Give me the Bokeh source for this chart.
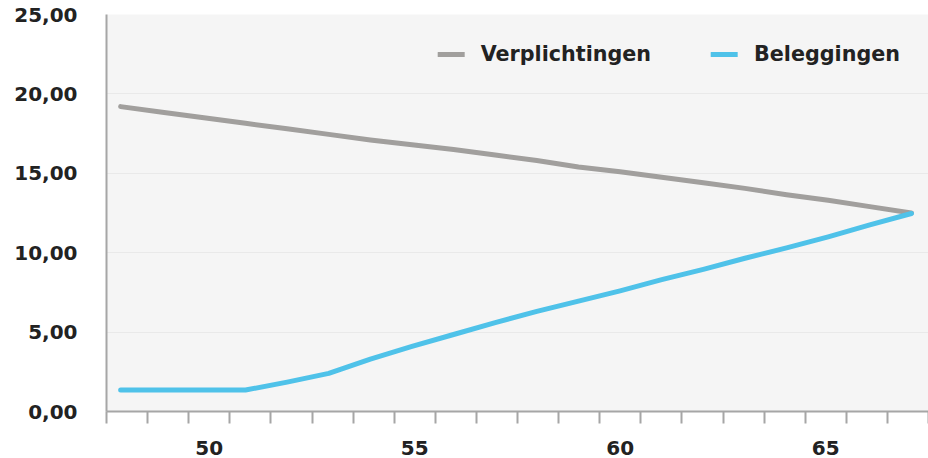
from bokeh.plotting import figure
from bokeh.models import Range1d, LinearAxis, FixedTicker, Legend, LegendItem
from bokeh.embed import file_html
from bokeh.resources import INLINE

# ---- data ----
ages = list(range(48, 68))
verplichtingen = [19.2, 18.85, 18.5, 18.15, 17.8, 17.45, 17.1, 16.8, 16.5, 16.15,
                  15.8, 15.4, 15.1, 14.75, 14.4, 14.05, 13.65, 13.3, 12.9, 12.5]
beleggingen = [1.35, 1.35, 1.35, 1.35, 1.85, 2.4, 3.3, 4.1, 4.85, 5.6,
               6.3, 6.95, 7.6, 8.3, 8.95, 9.65, 10.3, 11.0, 11.75, 12.47]
x_tick_values = [50, 55, 60, 65]
x_tick_labels = ["50", "55", "60", "65"]
y_tick_values = [0, 5, 10, 15, 20, 25]
y_tick_labels = ["0,00", "5,00", "10,00", "15,00", "20,00", "25,00"]
series_names = ["Verplichtingen", "Beleggingen"]

GRAY = "#a19f9d"
BLUE = "#4fc2e9"
AXIS = "#a6a6a6"
TEXT = "#222222"
FONT = "DejaVu Sans"

p = figure(width=928, height=458, output_backend="svg", toolbar_location=None,
           x_range=Range1d(47.66, 67.41), y_range=Range1d(0, 25),
           x_axis_location=None, y_axis_location="left",
           min_border_left=106, min_border_right=0, min_border_top=14,
           min_border_bottom=47)
p.background_fill_color = "#f5f5f5"
p.border_fill_color = "white"
p.outline_line_color = None

# category-style x axis on its own range
p.extra_x_ranges = {"cat": Range1d(47.5, 67.5)}
xaxis = LinearAxis(x_range_name="cat",
                   ticker=FixedTicker(ticks=x_tick_values,
                                      minor_ticks=[a - 0.5 for a in ages] + [ages[-1] + 0.5]))
xaxis.major_label_overrides = {v: l for v, l in zip(x_tick_values, x_tick_labels)}
xaxis.major_tick_line_color = None
xaxis.major_tick_out = 0
xaxis.major_tick_in = 0
xaxis.minor_tick_line_color = AXIS
xaxis.minor_tick_line_width = 2
xaxis.minor_tick_out = 12
xaxis.minor_tick_in = 0
xaxis.axis_line_color = AXIS
xaxis.axis_line_width = 2
xaxis.major_label_standoff = 17
xaxis.major_label_text_font = FONT
xaxis.major_label_text_font_style = "bold"
xaxis.major_label_text_font_size = "20px"
xaxis.major_label_text_color = TEXT
p.add_layout(xaxis, "below")

yaxis = p.yaxis[0]
yaxis.ticker = FixedTicker(ticks=y_tick_values)
yaxis.major_label_overrides = {v: l for v, l in zip(y_tick_values, y_tick_labels)}
yaxis.major_tick_line_color = None
yaxis.major_tick_out = 0
yaxis.major_tick_in = 0
yaxis.minor_tick_line_color = None
yaxis.axis_line_color = AXIS
yaxis.axis_line_width = 2
yaxis.major_label_standoff = 29
yaxis.major_label_text_font = FONT
yaxis.major_label_text_font_style = "bold"
yaxis.major_label_text_font_size = "20px"
yaxis.major_label_text_color = TEXT

p.xgrid.visible = False
p.ygrid.ticker = FixedTicker(ticks=y_tick_values)
p.ygrid.grid_line_color = "#e9e9e9"
p.ygrid.grid_line_width = 1

r1 = p.line(ages, verplichtingen, line_color=GRAY, line_width=5,
            line_cap="round", line_join="round")
r2 = p.line(ages, beleggingen, line_color=BLUE, line_width=5,
            line_cap="round", line_join="round")

legend = Legend(items=[LegendItem(label=series_names[0], renderers=[r1]),
                       LegendItem(label=series_names[1], renderers=[r2])],
                orientation="horizontal", location="top_right",
                background_fill_alpha=0, border_line_alpha=0,
                label_text_font=FONT, label_text_font_style="bold",
                label_text_font_size="20.7px", label_text_color=TEXT,
                glyph_width=27, glyph_height=20, label_standoff=16,
                spacing=60, padding=0, margin=28)
p.add_layout(legend, "center")

open("out.html", "w").write(file_html(p, INLINE))
